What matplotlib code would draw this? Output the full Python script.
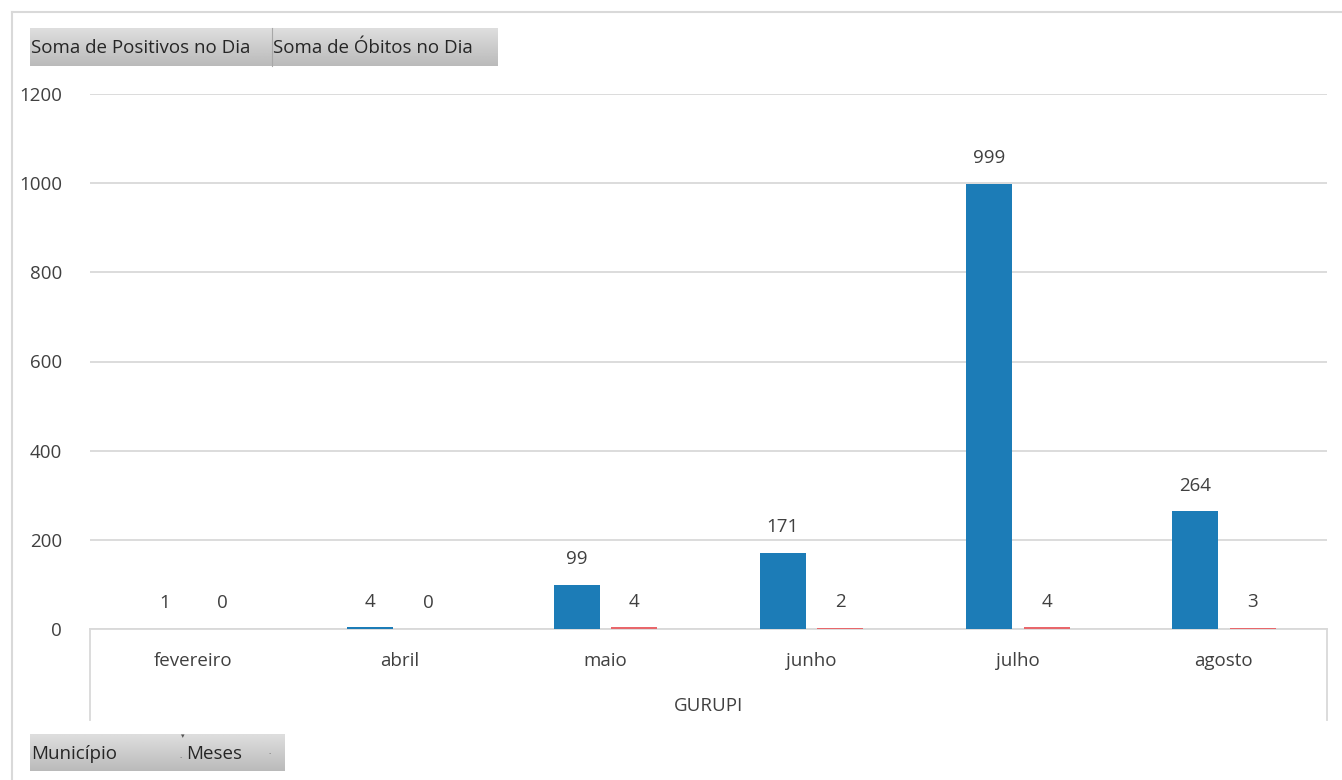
import numpy as np
import matplotlib.pyplot as plt
from matplotlib.lines import Line2D

# Data
meses = ['fevereiro', 'abril', 'maio', 'junho', 'julho', 'agosto']
positivos = [1, 4, 99, 171, 999, 264]
obitos = [0, 0, 4, 2, 4, 3]
municipio = 'GURUPI'
series_names = ['Soma de Positivos no Dia', 'Soma de Óbitos no Dia']
filtros = ['Município', 'Meses']

W, H = 1342, 780
plt.rcParams['font.family'] = ['Open Sans', 'DejaVu Sans']
TXT = '#404040'
GRID = '#d9d9d9'
FS = 13.5

fig = plt.figure(figsize=(W / 100, H / 100), dpi=100)

def px(x, y):
    return x / W, 1 - y / H

# outer frame of the pivot chart
fig.add_artist(Line2D([12 / W, 12 / W], [0, 1 - 12 / H], color=GRID, lw=1.5))
fig.add_artist(Line2D([12 / W, 1], [1 - 12 / H, 1 - 12 / H], color=GRID, lw=1.5))

# plot area
x0, x1, ytop, ybot = 90, 1327, 94, 629
ax = fig.add_axes([x0 / W, 1 - ybot / H, (x1 - x0) / W, (ybot - ytop) / H])
x = np.arange(len(meses))
bw = 0.223
off = 0.14
ax.bar(x - off, positivos, bw, color='#1c7cb7', zorder=3)
ax.bar(x + off, obitos, bw, color='#e8676b', zorder=3)
for xi, v in zip(x, positivos):
    ax.annotate(str(v), (xi - off, v), xytext=(0, 12), textcoords='offset points',
                ha='center', va='bottom', fontsize=FS, color=TXT)
for xi, v in zip(x, obitos):
    ax.annotate(str(v), (xi + off, v), xytext=(0, 12), textcoords='offset points',
                ha='center', va='bottom', fontsize=FS, color=TXT)

ax.set_xlim(-0.5, len(meses) - 0.5)
ax.set_ylim(0, 1200)
ax.set_yticks(range(0, 1201, 200))
ax.grid(axis='y', color=GRID, lw=1.3, zorder=0)
ax.tick_params(axis='y', length=0, pad=20, labelsize=FS, labelcolor=TXT)
ax.set_xticks([])
for s in ['top', 'right', 'left']:
    ax.spines[s].set_visible(False)
ax.spines['bottom'].set_color(GRID)
ax.spines['bottom'].set_linewidth(1.3)

# category axis labels
for xi, m in zip(x, meses):
    ax.annotate(m, (xi, 0), xytext=(0, -32), textcoords='offset pixels',
                ha='center', va='center', fontsize=FS, color=TXT, annotation_clip=False)
fig.text(*px((x0 + x1) / 2, 706), municipio, ha='center', va='center', fontsize=FS, color=TXT)
fig.add_artist(Line2D([x0 / W] * 2, [1 - ybot / H, 1 - 720 / H], color=GRID, lw=1.3))
fig.add_artist(Line2D([x1 / W] * 2, [1 - ybot / H, 1 - 720 / H], color=GRID, lw=1.3))

# field buttons
grad = np.linspace(0.87, 0.73, 50).reshape(-1, 1)

def button(xa, xb, ya, yb, label):
    b = fig.add_axes([xa / W, 1 - yb / H, (xb - xa) / W, (yb - ya) / H])
    b.imshow(np.repeat(grad, 2, axis=1), cmap='gray', vmin=0, vmax=1, aspect='auto')
    b.set_axis_off()
    fig.text(*px(xa + 1, (ya + yb) / 2 + 1), label, ha='left', va='center',
             fontsize=13.5, color='#262626')

button(30, 272, 28, 66, series_names[0])
button(272, 498, 28, 66, series_names[1])
fig.add_artist(Line2D([272 / W] * 2, [1 - 28 / H, 1 - 66 / H], color='#a8a8a8', lw=0.8))
button(30, 285, 734, 771, '')
fig.text(*px(31, 754), filtros[0], ha='left', va='center', fontsize=13.5, color='#262626')
fig.text(*px(186, 754), filtros[1], ha='left', va='center', fontsize=13.5, color='#262626')
fig.text(*px(183, 737), '▾', ha='center', va='center', fontsize=5, color='#555555')
fig.text(*px(181, 759), '·', ha='center', va='center', fontsize=6, color='#555555')
fig.text(*px(270, 755), '·', ha='center', va='center', fontsize=6, color='#555555')

fig.savefig('out.png', dpi=100, facecolor='white')
